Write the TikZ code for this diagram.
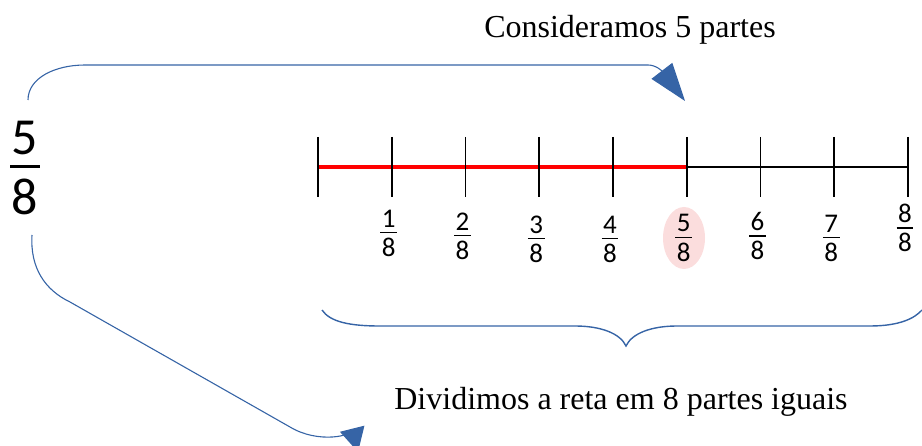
\documentclass[tikz,border=0pt]{standalone}
\usepackage{fontspec}
\setmainfont{Liberation Serif}
\newfontfamily\fracfont{Carlito}
\usepackage{tikz}
\usetikzlibrary{arrows.meta}
\definecolor{arrowblue}{RGB}{54,100,166}
\definecolor{markred}{RGB}{255,0,0}
\definecolor{softpink}{RGB}{251,221,221}
\newcommand{\stackfr}[4]{\vbox{\offinterlineskip\halign{\hskip1.5pt\hfil##\hfil\hskip1.5pt\cr #1\cr\noalign{\kern#4\hrule height #3\kern#4}#2\cr}}}

\begin{document}
\begin{tikzpicture}[x=1pt,y=-1pt,
        curvearrow/.style={draw=arrowblue,line width=1.1pt,-{Triangle[length=38pt,width=26pt]}},
        lowarrow/.style={draw=arrowblue,line width=1.1pt,-{Triangle[length=24pt,width=25pt]}},
        brace/.style={draw=arrowblue,line width=1.4pt},
        tickline/.style={line width=1.8pt},
        ticklabel/.style={inner sep=0pt,font=\fontsize{27}{27}\selectfont\fracfont},
        caption/.style={inner sep=0pt,font=\fontsize{32}{38}\selectfont}]
            \useasboundingbox (0,0) rectangle (922,446);
            \node[caption] (top) at (630,30) {Consideramos 5 partes};
            \node[caption] (bottom) at (621,402) {Dividimos a reta em 8 partes iguais};
            \node[inner sep=0pt,font=\fontsize{52}{52}\selectfont\fracfont] (whole) at (25,168) {\stackfr{5}{8}{3pt}{11pt}};

            \fill[softpink] (684,238) ellipse (21 and 31);
            \coordinate (t0) at (318,167);
            \coordinate (t5) at (686.75,167);
            \coordinate (t8) at (908,167);
            \draw[tickline] (t5) -- (t8);
            \draw[markred,line width=4pt] (t0) -- (t5);
            \foreach \i in {0,...,8}
                \draw[tickline] (318+73.75*\i,137) -- ++(0,60);
            \foreach \i/\y in {1/233,2/236,3/239,4/239,5/238,6/236,7/238,8/228}
                \node[ticklabel] (l\i) at (315+73.75*\i,\y) {\stackfr{\i}{8}{1.5pt}{4.5pt}};

            \coordinate (from1) at (28,100);
            \coordinate (to1) at (685,101);
            \draw[curvearrow] (from1) .. controls (28,78) and (55,65) .. (85,65) -- (648,65) .. controls (656,65) and (662,71) .. (to1);
            \coordinate (from2) at (32,235);
            \coordinate (to2) at (358,452);
            \draw[lowarrow] (from2) .. controls (30,268) and (45,290) .. (70,302) -- (290,427) .. controls (318,444) and (354,436) .. (to2);

            \draw[brace] (322,310) .. controls (330,322) and (350,326) .. (380,326) -- (575,326) .. controls (600,326) and (620,333) .. (626,346) .. controls (632,333) and (652,326) .. (677,326) -- (870,326) .. controls (900,326) and (915,318) .. (922,310);
        \end{tikzpicture}
\end{document}
